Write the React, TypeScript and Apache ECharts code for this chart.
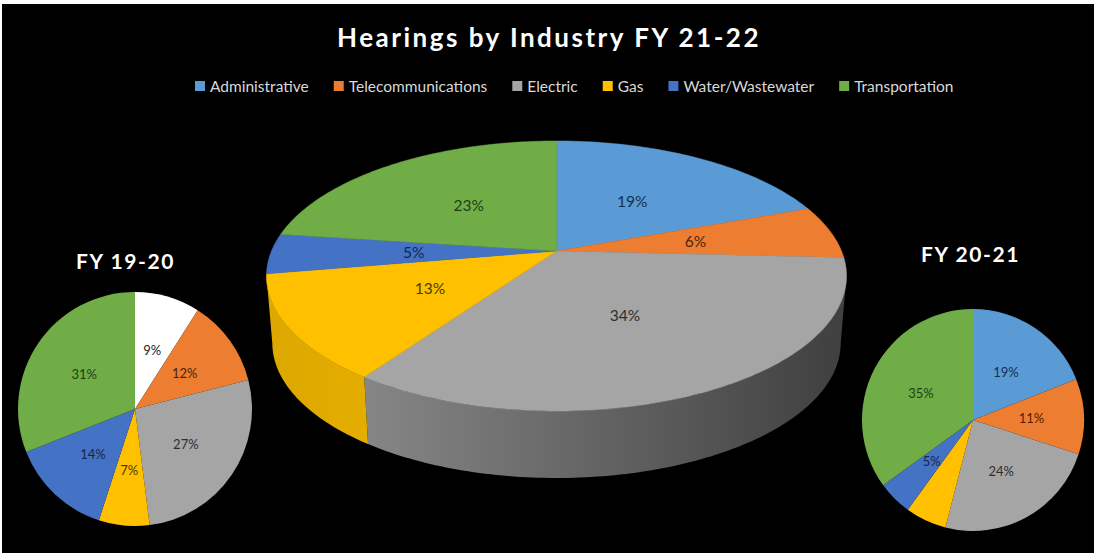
import React, { useEffect, useRef } from "react";
import * as echarts from "echarts";

const categories = ["Administrative", "Telecommunications", "Electric", "Gas", "Water/Wastewater", "Transportation"];
const values2122 = [19.4, 6.4, 33.9, 12.6, 4.8, 22.9];
const values1920 = [9, 12, 27, 7, 14, 31];
const values2021 = [19, 11, 24, 6, 5, 35];
const colors = ["#5B9BD5", "#ED7D31", "#A5A5A5", "#FFC000", "#4472C4", "#70AD47"];
const labelColors = ["#14304f", "#4d2208", "#2e2e2e", "#4d3a00", "#14264f", "#1d3f12"];
const wallFrom = ["#5B9BD5", "#ED7D31", "#868686", "#dca800", "#4472C4", "#70AD47"];
const wallTo = ["#5B9BD5", "#ED7D31", "#3f3f3f", "#e4ad00", "#4472C4", "#70AD47"];

const FONT = "Lato";

const total = values2122.reduce((a, b) => a + b, 0);
const starts = values2122.map((_, i) => values2122.slice(0, i).reduce((a, b) => a + b, 0));

const APEX_X = 556.5;
const APEX_Y = 251;
const SPAN_X = 285;
const SPAN_Y = 130.4;
const TILT = 0.185;
const DEPTH = 67;
const SHRINK = 0.98;
const WALL_FROM = 100.7;
const WALL_TO = 259.3;

function project(deg: number, rho: number): [number, number] {
  const a = (deg * Math.PI) / 180;
  const u = rho * Math.sin(a);
  const v = -rho * Math.cos(a);
  const d = 1 - TILT * v;
  return [APEX_X + (SPAN_X * u) / d, APEX_Y + (SPAN_Y * v) / d];
}
function drop(p: [number, number]): number[] {
  return [APEX_X + (p[0] - APEX_X) * SHRINK, p[1] + DEPTH];
}
function arc(from: number, to: number): [number, number][] {
  const n = Math.max(2, Math.ceil(to - from));
  const pts: [number, number][] = [];
  for (let i = 0; i <= n; i++) pts.push(project(from + ((to - from) * i) / n, 1));
  return pts;
}

function renderWall(_: any, api: any) {
  const i = api.value(0);
  const a0 = Math.max((api.value(1) / total) * 360, WALL_FROM);
  const a1 = Math.min(((api.value(1) + api.value(2)) / total) * 360, WALL_TO);
  if (a1 <= a0) return { type: "group", children: [] };
  const top = arc(a0, a1);
  const bottom = top.map(drop).reverse();
  return {
    type: "polygon",
    shape: { points: [...top, ...bottom] },
    style: {
      fill: {
        type: "linear", x: 0, y: 0, x2: 1, y2: 0,
        colorStops: [{ offset: 0, color: wallFrom[i] }, { offset: 1, color: wallTo[i] }],
      },
      stroke: null,
    },
  };
}

function renderTop(_: any, api: any) {
  const i = api.value(0);
  const a0 = (api.value(1) / total) * 360;
  const a1 = ((api.value(1) + api.value(2)) / total) * 360;
  const mid = project((a0 + a1) / 2, 0.5);
  return {
    type: "group",
    children: [
      {
        type: "polygon",
        shape: { points: [[APEX_X, APEX_Y], ...arc(a0, a1)] },
        style: { fill: colors[i], stroke: colors[i], lineWidth: 0.5 },
      },
      {
        type: "text",
        z2: 10,
        style: {
          x: mid[0],
          y: mid[1],
          text: Math.round(api.value(2)) + "%",
          fill: labelColors[i],
          font: `15.5px ${FONT}`,
          align: "center",
          verticalAlign: "middle",
        },
      },
    ],
  };
}

function smallPie(name: string, vals: number[], center: number[], radius: number, override?: Record<number, string>) {
  return {
    type: "pie",
    name,
    center,
    radius,
    startAngle: 90,
    clockwise: true,
    silent: true,
    label: { show: true, position: "inside", fontFamily: FONT, fontSize: 13 },
    labelLine: { show: false },
    itemStyle: { borderWidth: 0 },
    data: vals.map((value, i) => ({
      name: categories[i],
      value,
      itemStyle: { color: override?.[i] ?? colors[i] },
      label: { color: override?.[i] ? "#262626" : labelColors[i], formatter: `${value}%` },
    })),
  };
}

const sliceRows = values2122.map((v, i) => [i, starts[i], v]);

const titleText = "Hearings by Industry FY 21-22";
const leftTitle = "FY 19-20";
const rightTitle = "FY 20-21";

export default function App() {
  const ref = useRef<HTMLDivElement>(null);
  useEffect(() => {
    document.body.style.margin = "0";
    document.body.style.background = "#fff";
    const chart = echarts.init(ref.current!, undefined, { renderer: "svg" });
    chart.setOption({
      animation: false,
      backgroundColor: "#ffffff",
      title: [
        { text: titleText, left: 332, top: 19, textStyle: { color: "#fff", fontFamily: FONT, fontWeight: 700, fontSize: 26 } },
        { text: leftTitle, left: 71, top: 245, textStyle: { color: "#fff", fontFamily: FONT, fontWeight: 700, fontSize: 21 } },
        { text: rightTitle, left: 916, top: 238, textStyle: { color: "#fff", fontFamily: FONT, fontWeight: 700, fontSize: 21 } },
      ],
      legend: {
        data: categories,
        left: 190,
        top: 73,
        icon: "rect",
        itemWidth: 10,
        itemHeight: 10,
        itemGap: 25,
        selectedMode: false,
        textStyle: { color: "#d9d9d9", fontFamily: FONT, fontSize: 15.5 },
      },
      graphic: [
        { type: "rect", z: -10, silent: true, shape: { x: 2, y: 4, width: 1092, height: 549 }, style: { fill: "#000" } },
      ],
      series: [
        smallPie("FY 20-21", values2021, [973, 420], 111),
        smallPie("FY 19-20", values1920, [135, 409], 117, { 0: "#ffffff" }),
        { type: "custom", name: "wall", coordinateSystem: "none", silent: true, z: 2, renderItem: renderWall, data: sliceRows },
        { type: "custom", name: "top", coordinateSystem: "none", silent: true, z: 3, renderItem: renderTop, data: sliceRows },
      ],
    });
    // the reference's headings are letter-spaced; ECharts has no option for that
    ref.current!.querySelectorAll("text").forEach((t) => {
      const s = t.textContent;
      if (s === titleText) t.style.letterSpacing = "2.5px";
      else if (s === leftTitle || s === rightTitle) t.style.letterSpacing = "1.6px";
    });
    return () => chart.dispose();
  }, []);
  return <div ref={ref} style={{ width: 1094, height: 553 }} />;
}
